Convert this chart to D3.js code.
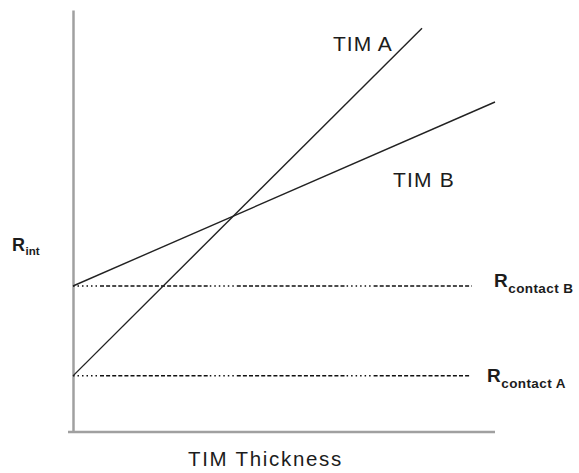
<!DOCTYPE html>
<html>
<head>
<meta charset="utf-8">
<script src="https://cdn.jsdelivr.net/npm/d3@7/dist/d3.min.js"></script>
<style>
  html, body { margin: 0; padding: 0; background: #fff; }
  svg { display: block; }
  text { font-family: "Liberation Sans", Arial, sans-serif; fill: #1c1c1c; }
</style>
</head>
<body>
<svg id="chart" width="579" height="473"></svg>
<script>
// ---- data (arbitrary units) ----
const seriesNames = ["TIM A", "TIM B"];
const timAThickness = [0, 8.27];
const timAResistance = [1.33, 9.57];
const timBThickness = [0, 10];
const timBResistance = [3.46, 7.82];
const contactNames = ["contact B", "contact A"];
const contactValues = [3.46, 1.33];
const contactEnds = [9.45, 9.43];
const xAxisLabel = "TIM Thickness";
const yAxisLabel = "R";
const yAxisSub = "int";

// ---- layout ----
const svg = d3.select("#chart");
const x = d3.scaleLinear().domain([0, 10]).range([73, 495]);
const y = d3.scaleLinear().domain([0, 10]).range([432, 10]);

// axes
const axisColor = "#a0a0a0";
const gx = svg.append("g").attr("transform", `translate(0,${y(0)})`)
  .call(d3.axisBottom(x).ticks(0).tickSizeOuter(0));
gx.select(".domain").attr("stroke", axisColor).attr("stroke-width", 2.5)
  .attr("d", `M${x(0) - 5},0H${x(10)}`);
const gy = svg.append("g").attr("transform", `translate(${x(0)},0)`)
  .call(d3.axisLeft(y).ticks(0).tickSizeOuter(0));
gy.select(".domain").attr("stroke", axisColor).attr("stroke-width", 2.5);

// dash pattern: dots then dashes, repeating
function pattern() {
  const parts = [];
  for (let i = 0; i < 6; i++) parts.push(1.5, 3);
  for (let i = 0; i < 18; i++) parts.push(4, 2.1);
  return parts.join(",");
}

// contact lines
contactValues.forEach((v, i) => {
  svg.append("line")
    .attr("x1", x(0)).attr("x2", x(contactEnds[i]))
    .attr("y1", y(v)).attr("y2", y(v))
    .attr("stroke", "#111").attr("stroke-width", 1.5)
    .attr("stroke-dasharray", pattern());
});

// TIM lines
const line = d3.line().x(d => x(d[0])).y(d => y(d[1]));
const seriesData = [
  d3.zip(timAThickness, timAResistance),
  d3.zip(timBThickness, timBResistance)
];
seriesData.forEach(d => {
  svg.append("path").attr("d", line(d))
    .attr("fill", "none").attr("stroke", "#222").attr("stroke-width", 1.4);
});

// series labels
svg.append("text").attr("x", 333).attr("y", 51)
  .attr("font-size", 21).attr("letter-spacing", 1).text(seriesNames[0]);
svg.append("text").attr("x", 393).attr("y", 187)
  .attr("font-size", 21).attr("letter-spacing", 1.2).text(seriesNames[1]);

// y label
const yl = svg.append("text").attr("x", 12).attr("y", 251).attr("font-weight", "bold");
yl.append("tspan").attr("font-size", 18).text(yAxisLabel);
yl.append("tspan").attr("font-size", 11.5).attr("dy", 4).attr("dx", 0.5).text(yAxisSub);

// contact labels
const cPos = [[494, 287], [487, 382]];
contactNames.forEach((n, i) => {
  const t = svg.append("text").attr("x", cPos[i][0]).attr("y", cPos[i][1]).attr("font-weight", "bold");
  t.append("tspan").attr("font-size", 19).text("R");
  t.append("tspan").attr("font-size", 13.5).attr("dy", 5.5).attr("dx", 0.5)
    .attr("letter-spacing", 0.4).text(n);
});

// x label
svg.append("text").attr("x", 188).attr("y", 466)
  .attr("font-size", 20.5).attr("letter-spacing", 1.7).text(xAxisLabel);
</script>
</body>
</html>
